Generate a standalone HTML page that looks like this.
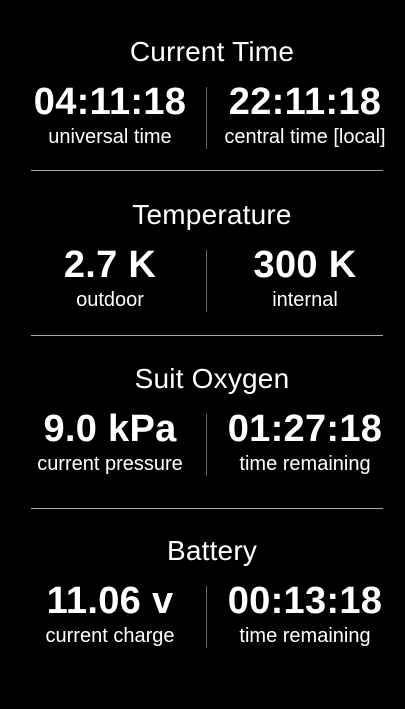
<!DOCTYPE html>
<html><head><meta charset="utf-8"><style>
html,body{margin:0;padding:0;background:#000;width:405px;height:709px;overflow:hidden}
svg{display:block;font-family:"Liberation Sans",Arial,sans-serif}
.t{font-size:28px;fill:#fff;letter-spacing:0.2px}
.v{font-size:38px;font-weight:bold;fill:#fff;letter-spacing:0.3px}
.l{font-size:20px;fill:#fff}
</style></head><body>
<svg width="405" height="709">
<g>
<text class="t" x="212" y="61" text-anchor="middle">Current Time</text>
<text class="v" x="110" y="114" text-anchor="middle">04:11:18</text>
<text class="l" x="110" y="143" text-anchor="middle">universal time</text>
<text class="v" x="305" y="114" text-anchor="middle">22:11:18</text>
<text class="l" x="305" y="143" text-anchor="middle">central time [local]</text>
<line x1="206.5" y1="87" x2="206.5" y2="149" stroke="#666"/>
<line x1="31" y1="170.5" x2="383" y2="170.5" stroke="#aaa"/>
</g>
<g transform="translate(0,163)">
<text class="t" x="212" y="61" text-anchor="middle">Temperature</text>
<text class="v" x="110" y="114" text-anchor="middle">2.7 K</text>
<text class="l" x="110" y="143" text-anchor="middle">outdoor</text>
<text class="v" x="305" y="114" text-anchor="middle">300 K</text>
<text class="l" x="305" y="143" text-anchor="middle">internal</text>
<line x1="206.5" y1="87" x2="206.5" y2="149" stroke="#666"/>
<line x1="31" y1="172.5" x2="383" y2="172.5" stroke="#aaa"/>
</g>
<g transform="translate(0,327)">
<text class="t" x="212" y="61" text-anchor="middle">Suit Oxygen</text>
<text class="v" x="110" y="114" text-anchor="middle">9.0 kPa</text>
<text class="l" x="110" y="143" text-anchor="middle">current pressure</text>
<text class="v" x="305" y="114" text-anchor="middle">01:27:18</text>
<text class="l" x="305" y="143" text-anchor="middle">time remaining</text>
<line x1="206.5" y1="87" x2="206.5" y2="149" stroke="#666"/>
<line x1="31" y1="181.5" x2="383" y2="181.5" stroke="#aaa"/>
</g>
<g transform="translate(0,499)">
<text class="t" x="212" y="61" text-anchor="middle">Battery</text>
<text class="v" x="110" y="114" text-anchor="middle">11.06 v</text>
<text class="l" x="110" y="143" text-anchor="middle">current charge</text>
<text class="v" x="305" y="114" text-anchor="middle">00:13:18</text>
<text class="l" x="305" y="143" text-anchor="middle">time remaining</text>
<line x1="206.5" y1="87" x2="206.5" y2="149" stroke="#666"/>
</g>
</svg>
</body></html>
